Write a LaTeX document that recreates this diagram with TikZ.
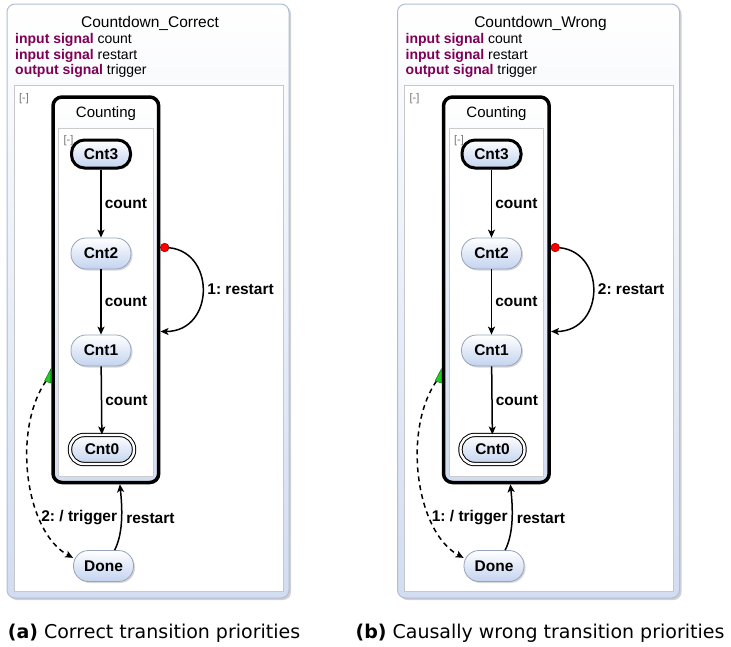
\documentclass[tikz,border=0pt]{standalone}
\usepackage{fontspec}
\setmainfont{Liberation Sans}
\newfontfamily\capfont{DejaVu Sans}
\usetikzlibrary{arrows.meta,shadows}
\frenchspacing
\definecolor{kwc}{HTML}{7F0055}
\definecolor{stblue}{HTML}{C3D3EF}
\definecolor{boxblue}{HTML}{D2DDF2}
\definecolor{framec}{HTML}{B0BDD4}
\definecolor{stborder}{HTML}{97A3B8}
\definecolor{trigreen}{HTML}{22CC22}
\newcommand\kw[1]{\textcolor{kwc}{\bfseries #1}}
\tikzset{
  outerbox/.style={draw=framec, line width=1pt, rounded corners=8pt, top color=white, bottom color=boxblue,
    drop shadow={shadow xshift=2pt, shadow yshift=-2pt, opacity=0.3, fill=black!60},
    inner sep=0pt, outer sep=0pt, minimum width=282pt, minimum height=594pt},
  panelbox/.style={draw=black!22, line width=0.8pt, fill=white, inner sep=0pt, outer sep=0pt,
    minimum width=269pt, minimum height=506pt},
  countbox/.style={draw=black, line width=3.5pt, rounded corners=9pt, top color=white, bottom color=boxblue,
    drop shadow={shadow xshift=1.5pt, shadow yshift=-1.5pt, opacity=0.25, fill=black!60},
    inner sep=0pt, minimum width=105.7pt, minimum height=385.5pt},
  regionbox/.style={draw=black!20, line width=0.8pt, fill=white, inner sep=0pt,
    minimum width=94.5pt, minimum height=347.5pt},
  titletext/.style={font=\fontsize{15.5}{18}\selectfont, inner sep=0pt},
  decl/.style={font=\fontsize{14}{16}\selectfont, anchor=base west, inner sep=0pt},
  collapse/.style={font=\fontsize{11}{13}\selectfont, text=black!55, inner sep=0pt},
  countlabel/.style={font=\fontsize{15}{18}\selectfont, anchor=base, inner sep=0pt},
  stnode/.style={draw=stborder, line width=0.8pt, rounded corners=15pt, minimum width=60pt, minimum height=31pt,
    inner sep=0pt, top color=white, bottom color=stblue,
    drop shadow={shadow xshift=1.5pt, shadow yshift=-1.5pt, opacity=0.25, fill=black!60},
    font=\fontsize{15.5}{18}\selectfont\bfseries},
  initstnode/.style={stnode, draw=black, line width=3pt, minimum width=59pt, minimum height=28pt, rounded corners=13pt},
  finalstnode/.style={stnode, draw=black, line width=1pt, double=white, double distance=2.4pt, minimum width=64pt, minimum height=29pt, rounded corners=14pt},
  trans/.style={draw=black, line width=1.5pt, -{Stealth[length=8pt,width=7pt,inset=2pt]}},
  dtrans/.style={trans, dash pattern=on 5pt off 4pt},
  elabel/.style={font=\fontsize{15.5}{18}\selectfont\bfseries, inner sep=1pt},
  caption/.style={font=\capfont\fontsize{19}{22}\selectfont, inner sep=0pt}
}
\newcommand\drawpanel[5]{%
\begin{scope}[xshift=#2]
  \node[outerbox] (#1outer) at (148,301) {};
  \node[panelbox] (#1panel) at (148.5,338) {};
  \node[titletext, anchor=base] (#1title) at (150,27) {#3};
  \node[decl] (#1d1) at (15,43.5) {\kw{input signal} count};
  \node[decl] (#1d2) at (15,59) {\kw{input signal} restart};
  \node[decl] (#1d3) at (15,74.5) {\kw{output signal} trigger};
  \node[collapse] (#1c1) at (24,99) {[-]};
  \node[countbox] (#1counting) at (105.85,289.75) {};
  \node[countlabel] (#1cl) at (106,117.5) {Counting};
  \node[regionbox] (#1region) at (105.75,302.25) {};
  \node[collapse] (#1c2) at (68.5,141) {[-]};
  \node[initstnode] (#1s3) at (101,154) {Cnt3};
  \node[stnode] (#1s2) at (101,253.5) {Cnt2};
  \node[stnode] (#1s1) at (101,350.5) {Cnt1};
  \node[finalstnode] (#1s0) at (102,449.5) {Cnt0};
  \node[stnode] (#1done) at (103.5,566) {Done};
  \draw[trans] (#1s3) -- node[elabel, right=2pt] (#1l1) {count} (#1s2);
  \draw[trans] (#1s2) -- node[elabel, right=2pt] (#1l2) {count} (#1s1);
  \draw[trans] (#1s1) -- node[elabel, right=2pt] (#1l3) {count} (#1s0);
  \coordinate (#1rs) at (164.7,247.5);
  \coordinate (#1re) at (160.5,331.5);
  \draw[trans] (#1rs) .. controls (216,247.5) and (216,331.5) .. node[elabel, right=3pt] (#1rl) {#4} (#1re);
  \fill[red, draw=red!50!black, line width=0.5pt] (#1rs) circle[radius=4.3pt];
  \coordinate (#1ts) at (46,381);
  \draw[dtrans] (#1ts) .. controls (12,430) and (25,532) .. node[elabel, pos=0.7, anchor=west] (#1tl) {#5} (#1done.165);
  \filldraw[fill=trigreen, draw=green!40!black, line width=0.4pt] (50.8,369) -- (50.8,383) -- (44.5,381) -- cycle;
  \coordinate (#1in) at ([xshift=14pt]#1counting.south);
  \draw[trans] (#1done.55) .. controls (124,532) and (122,505) .. node[elabel, right=3pt] (#1dl) {restart} (#1in);
\end{scope}}
\begin{document}
\begin{tikzpicture}[x=1pt,y=-1pt]
\useasboundingbox (0,0) rectangle (731,646);
\drawpanel{a}{0}{Countdown\_Correct}{1: restart}{2: / trigger}
\drawpanel{b}{390.5}{Countdown\_Wrong}{2: restart}{1: / trigger}
\node[caption] (capa) at (154,633) {{\bfseries (a)} Correct transition priorities};
\node[caption] (capb) at (540,633) {{\bfseries (b)} Causally wrong transition priorities};
\end{tikzpicture}
\end{document}
